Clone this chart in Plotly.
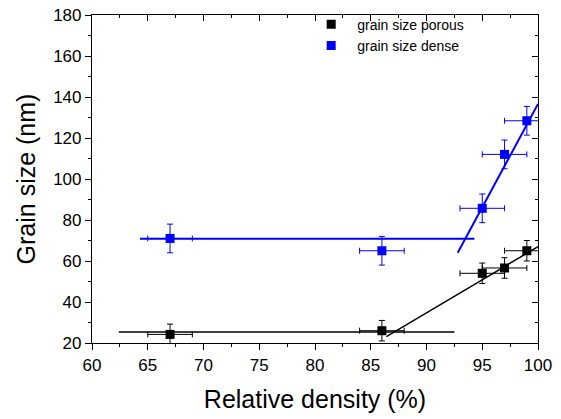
import plotly.graph_objects as go

# Data
density = [67, 86, 95, 97, 99]
density_err = [2, 2, 2, 2, 2]
porous = [24.2, 26, 54, 56.6, 65]
porous_err = [5, 5, 5, 5, 5]
dense = [71, 65, 85.7, 112, 128.4]
dense_err = [7, 7, 7, 7, 7]

# Fit lines (endpoints)
porous_flat_x = [62.4, 92.5]
porous_flat_y = [25.4, 25.4]
porous_slope_x = [86.4, 100]
porous_slope_y = [23.1, 67]
dense_flat_x = [64.3, 94.3]
dense_flat_y = [70.9, 70.9]
dense_slope_x = [92.8, 100]
dense_slope_y = [64, 136.6]

BLUE = "#0000FF"
FONT = "Liberation Sans, Arial, sans-serif"

fig = go.Figure()

fig.add_trace(go.Scatter(x=porous_flat_x, y=porous_flat_y, mode="lines",
                         line=dict(color="black", width=1.5), showlegend=False))
fig.add_trace(go.Scatter(x=porous_slope_x, y=porous_slope_y, mode="lines",
                         line=dict(color="black", width=1.5), showlegend=False))
fig.add_trace(go.Scatter(x=dense_flat_x, y=dense_flat_y, mode="lines",
                         line=dict(color=BLUE, width=2), showlegend=False))
fig.add_trace(go.Scatter(x=dense_slope_x, y=dense_slope_y, mode="lines",
                         line=dict(color=BLUE, width=2), showlegend=False))

fig.add_trace(go.Scatter(
    x=density, y=porous, mode="markers", name="grain size porous",
    marker=dict(symbol="square", size=9, color="black"),
    error_x=dict(type="data", array=density_err, color="black", thickness=1, width=3),
    error_y=dict(type="data", array=porous_err, color="black", thickness=1, width=3),
))
fig.add_trace(go.Scatter(
    x=density, y=dense, mode="markers", name="grain size dense",
    marker=dict(symbol="square", size=9, color=BLUE),
    error_x=dict(type="data", array=density_err, color=BLUE, thickness=1, width=3),
    error_y=dict(type="data", array=dense_err, color=BLUE, thickness=1, width=3),
))

# invisible trace for the mirrored axes
fig.add_trace(go.Scatter(x=[60], y=[20], xaxis="x2", yaxis="y2", mode="markers",
                         marker=dict(opacity=0), showlegend=False, hoverinfo="skip"))

axis_common = dict(showgrid=False, zeroline=False, showline=True, linecolor="black",
                   linewidth=1.2, tickcolor="black", tickwidth=1.2)

fig.update_layout(
    width=561, height=419,
    margin=dict(l=92, r=23, t=15, b=76, autoexpand=False),
    paper_bgcolor="white", plot_bgcolor="white",
    font=dict(family=FONT, color="black"),
    xaxis=dict(range=[60, 100], tickmode="linear", tick0=60, dtick=5,
               ticks="outside", ticklen=6,
               minor=dict(ticks="outside", ticklen=3, dtick=2.5, tickcolor="black", tickwidth=1.2),
               tickfont=dict(size=17),
               title=dict(text="Relative density (%)", font=dict(size=25), standoff=16),
               **axis_common),
    yaxis=dict(range=[20, 180], tickmode="linear", tick0=20, dtick=20,
               ticks="outside", ticklen=6,
               minor=dict(ticks="outside", ticklen=3, dtick=10, tickcolor="black", tickwidth=1.2),
               tickfont=dict(size=17),
               title=dict(text="Grain size (nm)", font=dict(size=25), standoff=10),
               **axis_common),
    xaxis2=dict(range=[60, 100], overlaying="x", side="top", anchor="y",
                tickmode="linear", tick0=60, dtick=5, ticks="inside", ticklen=6,
                minor=dict(ticks="inside", ticklen=3, dtick=2.5, tickcolor="black", tickwidth=1.2),
                showticklabels=False, **axis_common),
    yaxis2=dict(range=[20, 180], overlaying="y", side="right", anchor="x",
                tickmode="linear", tick0=20, dtick=20, ticks="inside", ticklen=6,
                minor=dict(ticks="inside", ticklen=3, dtick=10, tickcolor="black", tickwidth=1.2),
                showticklabels=False, **axis_common),
    legend=dict(x=0.478, y=1.019, xanchor="left", yanchor="top",
                bgcolor="rgba(0,0,0,0)", font=dict(size=14),
                itemwidth=42, tracegroupgap=0),
    showlegend=True,
)

fig.write_html("out.html")
